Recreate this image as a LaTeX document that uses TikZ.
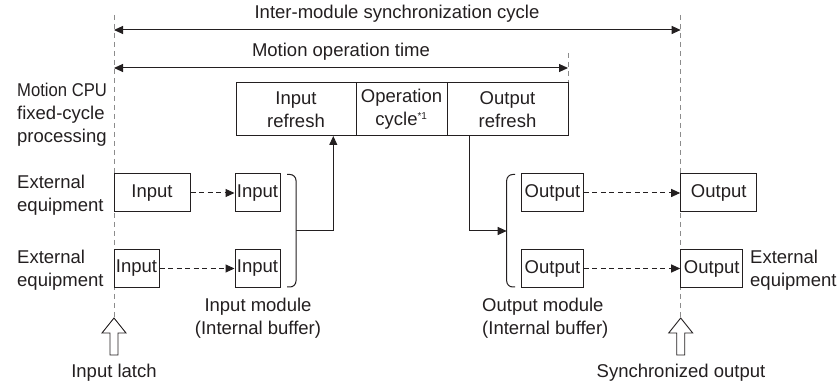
\documentclass[tikz,border=0pt]{standalone}
\usepackage{fontspec}
\setmainfont{Liberation Sans}
\usetikzlibrary{arrows.meta}
\definecolor{ink}{HTML}{231F20}
\definecolor{guide}{HTML}{8C8C8C}
\tikzset{
  box/.style={draw=ink, line width=1pt, minimum height=38pt, inner sep=0pt, text=ink},
  cell/.style={draw=ink, line width=1pt, minimum height=53pt, inner sep=0pt, text=ink, align=center},
  lbl/.style={inner sep=0pt, text=ink},
  arr/.style={draw=ink, line width=1pt, -{Triangle[length=9pt,width=8pt]}},
  darr/.style={draw=ink, line width=1pt, dash pattern=on 5pt off 3.5pt, -{Triangle[length=9pt,width=8pt]}},
  guideline/.style={draw=guide, line width=1pt, dash pattern=on 5pt off 4pt},
  hollow/.style={draw=ink, line width=0.9pt, fill=white},
  brk/.style={draw=ink, line width=1pt}
}
\begin{document}
\begin{tikzpicture}[x=1pt,y=-1pt]
\fontsize{18.5}{23}\selectfont
\useasboundingbox (0,0) rectangle (838,387);
% guide lines
\coordinate (gLt) at (114,15);
\coordinate (gLb) at (114,317);
\coordinate (gRt) at (680.7,15);
\coordinate (gRb) at (680.7,317);
\coordinate (gMt) at (568,53);
\coordinate (gMb) at (568,83);
\draw[guideline] (gLt) -- (gLb);
\draw[guideline] (gRt) -- (gRb);
\draw[guideline] (gMt) -- (gMb);
% top span arrows
\coordinate (syncL) at (114,30);
\coordinate (syncR) at (680.7,30);
\coordinate (motL) at (114,68);
\coordinate (motR) at (568,68);
\draw[arr, {Triangle[length=9pt,width=8pt]}-{Triangle[length=9pt,width=8pt]}] (syncL) -- (syncR);
\draw[arr, {Triangle[length=9pt,width=8pt]}-{Triangle[length=9pt,width=8pt]}] (motL) -- (motR);
\node[lbl] (tSync) at (397,14) {Inter-module synchronization cycle};
\node[lbl] (tMot) at (341,52) {Motion operation time};
% processing box
\node[cell, minimum width=120pt] (ir) at (296,109.5) {Input\\refresh};
\node[cell, minimum width=91pt] (oc) at (401.5,109.5) {Operation\\cycle\textsuperscript{\fontsize{10}{10}\selectfont *1}};
\node[cell, minimum width=121pt] (or) at (507.5,109.5) {Output\\refresh};
% left labels
\node[lbl, anchor=west, align=left] (cpu) at (17,114.5) {\scalebox{0.9}[1]{Motion CPU}\\fixed-cycle\\processing};
\node[lbl, anchor=west, align=left] (ext1) at (17,195) {External\\equipment};
\node[lbl, anchor=west, align=left] (ext2) at (17,270) {External\\equipment};
\node[lbl, anchor=west, align=left] (ext3) at (750,270) {External\\equipment};
% input boxes
\node[box, minimum width=76pt] (in1a) at (152,193) {Input};
\node[box, minimum width=45pt] (in1b) at (257.5,193) {Input};
\node[box, minimum width=45pt] (in2a) at (136.5,268.5) {Input};
\node[box, minimum width=45pt] (in2b) at (257.5,268.5) {Input};
\draw[darr] (in1a) -- (in1b);
\draw[darr] (in2a) -- (in2b);
% output boxes
\node[box, minimum width=61.6pt] (out1a) at (552.5,193) {Output};
\node[box, minimum width=61.6pt] (out2a) at (552.5,268.5) {Output};
\node[box, minimum width=76pt] (out1b) at (718.7,193) {Output};
\node[box, minimum width=62pt] (out2b) at (711.7,268.5) {Output};
\draw[darr] (out1a) -- (out1b);
\draw[darr] (out2a) -- (out2b);
% brackets
\coordinate (brIn) at (296,231);
\coordinate (brOut) at (506.7,231);
\draw[brk] (287,174.5) -- (290,174.5) arc[start angle=-90, end angle=0, radius=6] -- (296,281) arc[start angle=0, end angle=90, radius=6] -- (287,287);
\draw[brk] (515,174.5) -- (512.7,174.5) arc[start angle=-90, end angle=-180, radius=6] -- (506.7,281) arc[start angle=180, end angle=90, radius=6] -- (515,287);
\coordinate (irIn) at (333.3,136);
\coordinate (orOut) at (469.3,136);
\draw[arr] (brIn) -| (irIn);
\draw[arr] (orOut) |- (brOut);
% module labels
\node[lbl, align=center] (inmod) at (258,318) {Input module\\(Internal buffer)};
\node[lbl, anchor=west, align=left] (outmod) at (482,318) {Output module\\(Internal buffer)};
% hollow arrows
\draw[hollow] (114,318) -- (126,333) -- (118,333) -- (118,355) -- (110,355) -- (110,333) -- (102,333) -- cycle;
\draw[hollow] (680.7,318) -- (692.7,333) -- (684.7,333) -- (684.7,355) -- (676.7,355) -- (676.7,333) -- (668.7,333) -- cycle;
\node[lbl] (latch) at (114,373) {Input latch};
\node[lbl] (sync) at (681,373) {Synchronized output};
\end{tikzpicture}
\end{document}
